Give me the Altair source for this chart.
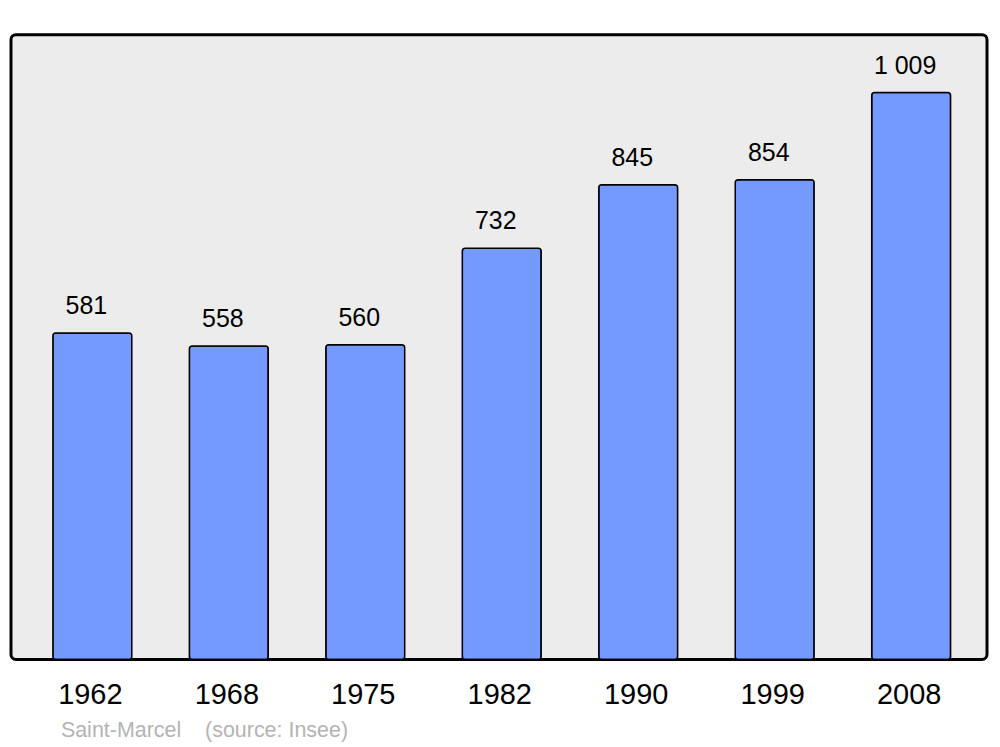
import altair as alt
import pandas as pd

years = ["1962", "1968", "1975", "1982", "1990", "1999", "2008"]
population = [581, 558, 560, 732, 845, 854, 1009]
labels = ["581", "558", "560", "732", "845", "854", "1 009"]

df = pd.DataFrame({"year": years, "pop": population, "label": labels})

FONT = "Liberation Sans"

x = alt.X("year:O", sort=years, title=None,
          scale=alt.Scale(paddingInner=0.422, paddingOuter=0.287, align=0.535),
          axis=alt.Axis(labelAngle=0, labelFontSize=29, labelFont=FONT, labelColor="black",
                        ticks=False, domain=False, labelPadding=21, labelOffset=-2))
y = alt.Y("pop:Q", scale=alt.Scale(domain=[0, 1112], nice=False), axis=None)

bars = alt.Chart(df).mark_bar(color="#7499ff", stroke="black", strokeWidth=1.5,
                              cornerRadius=3).encode(x=x, y=y)
text = alt.Chart(df).mark_text(font=FONT, fontSize=25, baseline="alphabetic",
                               dy=-19, dx=-6, color="black").encode(x=x, y=y, text="label:N")

chart = alt.layer(bars, text).properties(
    width=978, height=626,
    padding={"left": 3, "top": 26, "right": 5, "bottom": 5},
    title=alt.TitleParams("Saint-Marcel\u00a0\u00a0\u00a0\u00a0(source: Insee)", orient="bottom",
                          anchor="start", dx=50, fontSize=21.5, font=FONT, color="#b4b4b4",
                          fontWeight="normal", offset=11),
).configure(background="white"
).configure_view(fill="#ececec", stroke="black", strokeWidth=3, cornerRadius=5)

chart.save("out.html", embed_options={"renderer": "svg", "actions": False})
